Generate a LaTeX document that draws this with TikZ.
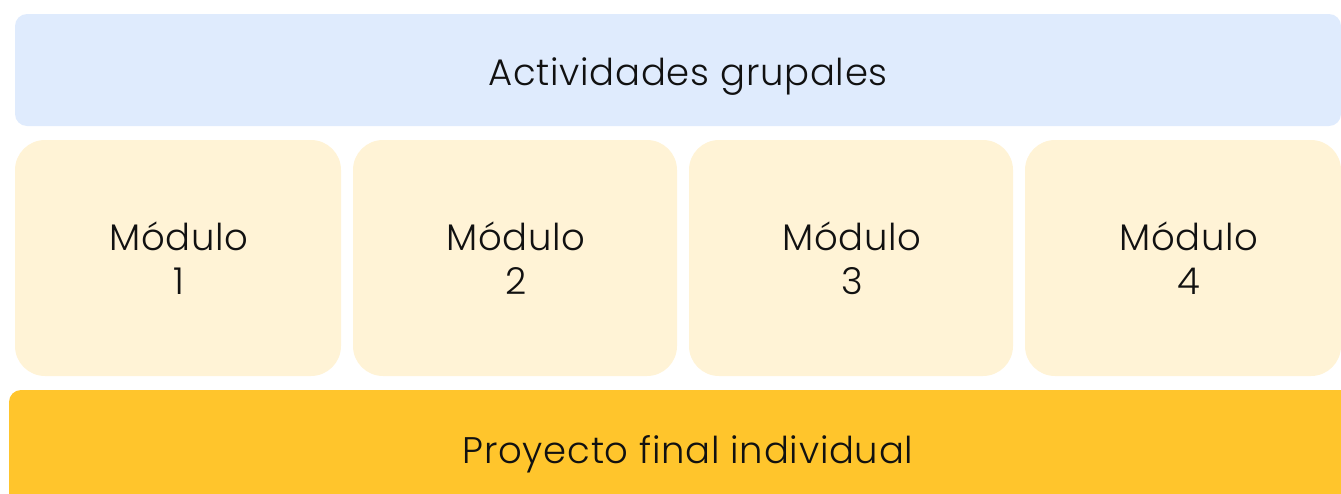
\documentclass[tikz,border=0pt]{standalone}
\usepackage{fontspec}
\setmainfont{Poppins}[UprightFont=* Light, LetterSpace=2]
\definecolor{topblue}{RGB}{223,235,253}
\definecolor{modcream}{RGB}{255,243,214}
\definecolor{projyellow}{RGB}{255,197,44}
\definecolor{ink}{RGB}{17,17,17}
\tikzset{
  band/.style={fill=#1, draw=none, rounded corners=12pt, inner sep=0pt},
  modbox/.style={fill=modcream, draw=none, rounded corners=30pt, inner sep=0pt},
  lbl/.style={text=ink, font=\fontsize{37}{44}\selectfont, anchor=base, inner sep=0pt, align=center},
}
\begin{document}
\begin{tikzpicture}[x=1pt,y=-1pt]
\useasboundingbox (0,0) rectangle (1341,493);
\clip (0,0) rectangle (1341,493);
\path[band=topblue] (15,14) rectangle (1341,126);
\path[modbox] (15,140) rectangle (341,376);
\path[modbox] (353,140) rectangle (677,376);
\path[modbox] (689,140) rectangle (1013,376);
\path[modbox] (1025,140) rectangle (1341,376);
\path[band=projyellow] (9,390) rectangle (1380,520);
\node[lbl] (t0) at (688,85) {Actividades grupales};
\node[lbl] (m1a) at (179,250) {Módulo};
\node[lbl] (m1b) at (179,294) {1};
\node[lbl] (m2a) at (516,250) {Módulo};
\node[lbl] (m2b) at (516,294) {2};
\node[lbl] (m3a) at (852,250) {Módulo};
\node[lbl] (m3b) at (852,294) {3};
\node[lbl] (m4a) at (1189,250) {Módulo};
\node[lbl] (m4b) at (1189,294) {4};
\node[lbl] (t5) at (688,463) {Proyecto final individual};
\end{tikzpicture}
\end{document}
